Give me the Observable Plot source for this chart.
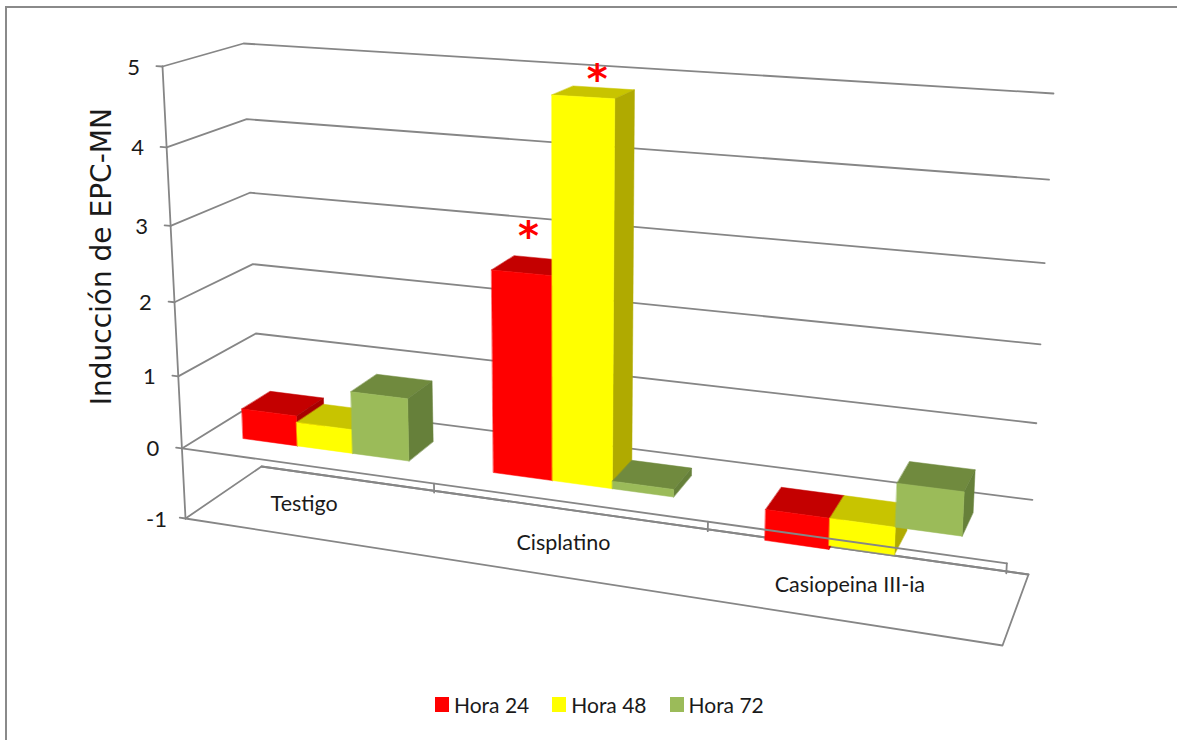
<!DOCTYPE html>
<html>
<head>
<meta charset="utf-8">
<script src="https://cdn.jsdelivr.net/npm/d3@7"></script>
<script src="https://cdn.jsdelivr.net/npm/@observablehq/plot@0.6"></script>
<style>
html,body{margin:0;padding:0;background:#fff;}
#frame{position:relative;width:1177px;height:740px;overflow:hidden;}
#border{position:absolute;left:5px;top:6px;right:0;bottom:0;border-left:2px solid #8a8a8a;border-top:2px solid #8a8a8a;box-sizing:border-box;}
#chart{position:absolute;left:0;top:0;}
#legend{position:absolute;left:435px;top:690px;display:flex;align-items:center;height:28px;font:21px Lato,sans-serif;color:#1a1a1a;}
#legend span.s{display:inline-block;width:14px;height:15px;margin-right:5px;}
#legend span.l{margin-right:23px;}
</style>
</head>
<body>
<div id="frame"><div id="border"></div><div id="chart"></div><div id="legend"></div></div>
<script>
const categories = ["Testigo", "Cisplatino", "Casiopeina III-ia"];
const series = ["Hora 24", "Hora 48", "Hora 72"];
const hora24 = [0.42, 2.65, -0.4];
const hora48 = [0.33, 4.83, -0.35];
const hora72 = [0.85, 0.1, 0.55];
const valueTicks = [-1, 0, 1, 2, 3, 4, 5];
const starValues = [3.0, 4.97];
const yTitle = "Inducción de EPC-MN";

const seriesValues = [hora24, hora48, hora72];
const front = ["#ff0000", "#ffff00", "#9bbb59"];
const topFace = ["#c40000", "#c8c400", "#708a3e"];
const sideFace = ["#a80000", "#b0aa00", "#66803a"];
const gap = 1.47, barShift = -0.003, depth0 = 0.3, depth1 = 0.68;
const labelU = [0.1125, 0.4595, 0.8105];
const starOffset = [0.42, 0.55];

// Perspective frame of the 3D box: the box corners [u, valueEnd, depth]
const box = {
  "0,0,0": [185, 518], "0,1,0": [162, 66],
  "0,0,1": [261, 466], "0,1,1": [243, 43],
  "1,0,1": [1028, 574], "1,1,1": [1053, 93],
  "1,0,0": [1002, 645], "1,1,0": [1030, 115]
};
const wU = [1, 0.88], wV = [1.09, 1], wW = [1, 1.07];
function P(u, v, w) {
  const t = (v + 1) / 6;
  let X = 0, Y = 0, W = 0;
  for (const a of [0, 1]) for (const b of [0, 1]) for (const c of [0, 1]) {
    const k = (a ? u : 1 - u) * (b ? t : 1 - t) * (c ? w : 1 - w) * wU[a] * wV[b] * wW[c];
    const p = box[a + "," + b + "," + c];
    X += k * p[0]; Y += k * p[1]; W += k;
  }
  return [X / W, Y / W];
}
const seg = (id, pts) => pts.map(q => { const p = P(...q); return {id, x: p[0], y: p[1]}; });

// Gridlines on the left wall and the back wall
const grid = valueTicks.flatMap(v => seg("g" + v, [[0, v, 0], [0, v, 1], [1, v, 1]]));
const axisPts = seg("axis", [[0, 5, 0], [0, -1, 0]]);
const floorBack = seg("fb", [[0, -1, 1], [1, -1, 1], [1, -1, 0], [0, -1, 0]]);
const zeroFront = seg("zf", [[0, 0, 0], [1, 0, 0]]);
const ticks = valueTicks.map(v => {
  const p = P(0, v, 0);
  return {v, x: p[0], y: p[1]};
});
const valueTickLines = valueTicks.flatMap(v => seg("vt" + v, [[0, v, 0], [-0.008, v, 0]]));
const catTicks = [1, 2, 3].flatMap(g => seg("t" + g, [[g / 3, 0, 0], [g / 3, -0.12, 0]]));

// Bars
const faces = [];
categories.forEach((cat, g) => {
  series.forEach((s, i) => {
    const val = seriesValues[i][g];
    const hi = Math.max(0, val), lo = Math.min(0, val);
    const u0 = (g + (gap / 2 + i) / (3 + gap)) / 3 + barShift;
    const u1 = (g + (gap / 2 + i + 1) / (3 + gap)) / 3 + barShift;
    const add = (suffix, color, pts) => seg(g + "-" + i + suffix, pts).forEach(d => faces.push({...d, color}));
    add("t", topFace[i], [[u0, hi, depth0], [u1, hi, depth0], [u1, hi, depth1], [u0, hi, depth1]]);
    add("s", sideFace[i], [[u1, lo, depth0], [u1, hi, depth0], [u1, hi, depth1], [u1, lo, depth1]]);
    add("f", front[i], [[u0, lo, depth0], [u1, lo, depth0], [u1, hi, depth0], [u0, hi, depth0]]);
  });
});

// Category labels along the floor
const catLabels = categories.map((c, g) => {
  const p = P(labelU[g], -1, 0.5);
  return {c, x: p[0], y: p[1]};
});
// Significance stars: Cisplatino, Hora 24 and Hora 48
const stars = starValues.map((v, i) => {
  const u = (1 + (gap / 2 + i + starOffset[i]) / (3 + gap)) / 3 + barShift;
  const p = P(u, v, 0.5);
  return {x: p[0], y: p[1]};
});
const titleAt = P(0, 2.6, 0);

const grey = "#868686";
const line = (data, opt = {}) => Plot.line(data, {x: "x", y: "y", z: "id", stroke: grey, strokeWidth: 1.8, ...opt});
const plot = Plot.plot({
  width: 1177, height: 690, margin: 0,
  x: {domain: [0, 1177], range: [0, 1177], axis: null},
  y: {domain: [0, 690], range: [0, 690], axis: null},
  color: {type: "identity"},
  style: {background: "transparent"},
  marks: [
    line(grid),
    line(axisPts),
    line(valueTickLines),
    line(floorBack),
    Plot.text(ticks, {x: "x", y: "y", text: d => String(d.v), dx: -29, dy: 1, fontSize: 22, fontFamily: "Lato", fill: "#1a1a1a", textAnchor: "middle"}),
    Plot.line(faces, {x: "x", y: "y", z: "id", fill: "color", stroke: "color", strokeWidth: 0.5, curve: "linear-closed"}),
    line(zeroFront),
    line(catTicks),
    Plot.text(catLabels, {x: "x", y: "y", text: "c", dy: 1, fontSize: 21.5, fontFamily: "Lato", fill: "#1a1a1a"}),
    Plot.text(stars, {x: "x", y: "y", text: () => "*", fontSize: 40, fontWeight: "bold", fontFamily: "DejaVu Sans", fill: "#ff0000"}),
    Plot.text([yTitle], {x: () => titleAt[0], y: () => titleAt[1], text: d => d, rotate: -90, dx: -70, fontSize: 28, fontFamily: "DejaVu Sans", fill: "#1a1a1a"})
  ]
});
document.getElementById("chart").appendChild(plot);
const legend = document.getElementById("legend");
series.forEach((s, i) => {
  legend.insertAdjacentHTML("beforeend", `<span class="s" style="background:${front[i]}"></span><span class="l">${s}</span>`);
});
</script>
</body>
</html>
